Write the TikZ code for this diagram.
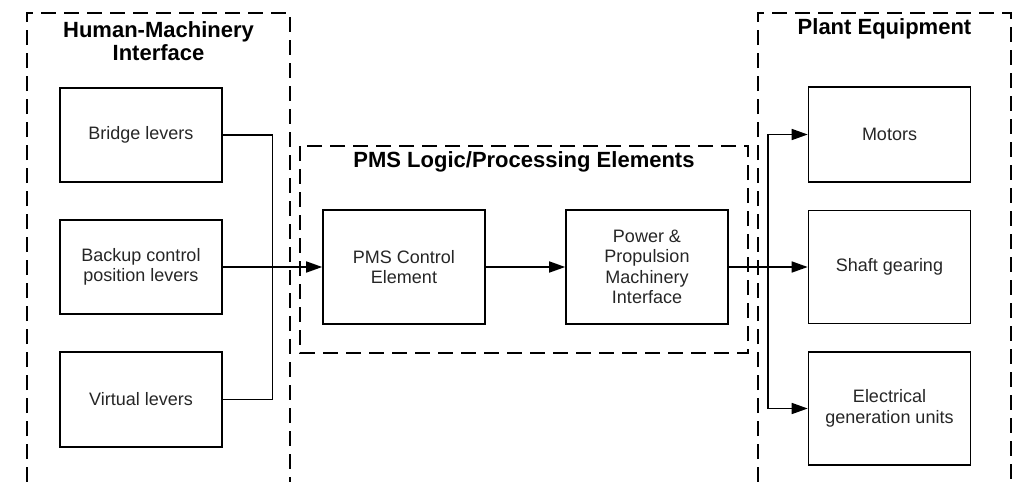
\documentclass[tikz,border=0pt]{standalone}
\usepackage{fontspec}
\setmainfont{Liberation Sans}
\usetikzlibrary{arrows.meta}

\tikzset{
  box/.style={draw,line width=1.6pt,minimum width=162pt,inner sep=2pt,align=center,
    text=black!85,font=\fontsize{18}{20.5}\selectfont},
  frame/.style={line width=1.6pt,dash pattern=on 15pt off 8pt},
  title/.style={inner sep=0pt,align=center,font=\fontsize{22}{23.5}\selectfont\bfseries},
  link/.style={line width=1.6pt},
  arr/.style={link,-{Triangle[length=16pt,width=11pt]}}
}

\begin{document}
\begin{tikzpicture}[x=1pt,y=-1pt]
\useasboundingbox (0,0) rectangle (1013,482);
\draw[frame] (27,482) -- (27,13) -- (290,13) -- (290,482);
\draw[frame] (758,482) -- (758,13) -- (1011,13) -- (1011,482);
\draw[frame] (300,146) rectangle (748,353);
\node[title,anchor=north] (HMI) at (158.5,21) {Human-Machinery\\Interface};
\node[title,anchor=base] (PE) at (884.5,34.5) {Plant Equipment};
\node[title,anchor=base] (PMS) at (524,167) {PMS Logic/Processing Elements};
\node[box,minimum height=94pt] (Br) at (141,135) {Bridge levers};
\node[box,minimum height=94pt] (Bk) at (141,267) {Backup control\\position levers};
\node[box,minimum height=95pt] (Vl) at (141,399.5) {Virtual levers};
\node[box,minimum height=114pt] (PC) at (404,267) {PMS Control\\Element};
\node[box,minimum height=114pt] (PP) at (647,267) {Power \&\\Propulsion\\Machinery\\Interface};
\node[box,minimum height=95pt] (Mo) at (889.5,134.5) {Motors};
\node[box,minimum height=113pt] (Sg) at (889.5,267) {Shaft gearing};
\node[box,minimum height=113pt] (Eg) at (889.5,408.5) {Electrical\\generation units};
\coordinate (L) at (272.5,267);
\coordinate (R) at (768,267);
\draw[link] (Br.east) -| (L) |- (Vl.east);
\draw[arr] (Bk.east) -- (PC.west);
\draw[arr] (PC.east) -- (PP.west);
\draw[arr] (PP.east) -- (Sg.west);
\draw[arr] (R) |- (Mo.west);
\draw[arr] (R) |- (Eg.west);
\end{tikzpicture}
\end{document}
